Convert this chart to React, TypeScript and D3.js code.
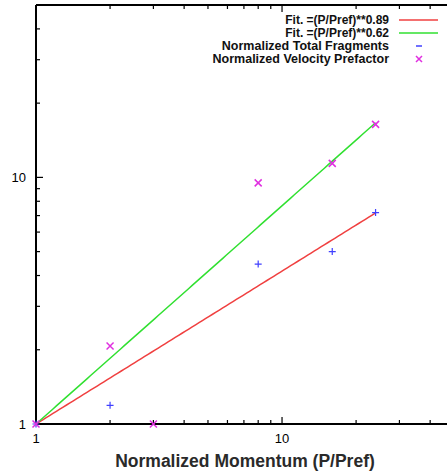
import React, { useEffect, useRef } from 'react';
import * as d3 from 'd3';

const momentum = [1, 2, 8, 16, 24];
const totalFragments = [1, 1.19, 4.45, 5.0, 7.2];
const velMomentum = [1, 2, 3, 8, 16, 24];
const velocityPrefactor = [1, 2.07, 1, 9.5, 11.4, 16.4];
const fitRed = 0.62;
const fitGreen = 0.885;
const legendLabels = [
  'Fit. =(P/Pref)**0.89',
  'Fit. =(P/Pref)**0.62',
  'Normalized Total Fragments',
  'Normalized Velocity Prefactor',
];
const xTicks = [1, 10];
const yTicks = [1, 10];

const App = () => {
  const svgRef = useRef<SVGSVGElement>(null);

  useEffect(() => {
    const width = 447;
    const height = 473;
    const left = 36, right = 454, top = 5, bottom = 424;
    const font = 'Liberation Sans, Arial, sans-serif';

    const svg = d3.select(svgRef.current)
      .attr('width', width)
      .attr('height', height);
    svg.selectAll('*').remove();

    const x = d3.scaleLog().domain([1, 50]).range([left, right]);
    const y = d3.scaleLog().domain([1, 50]).range([bottom, top]);

    // minor / major ticks, inward, mirrored
    const ticks = d3.range(1, 51).filter(v => v < 10 || v % 10 === 0);
    const g = svg.append('g').attr('stroke', '#000');
    ticks.forEach(v => {
      const len = v === 1 || v === 10 ? 7 : 4;
      g.append('line').attr('x1', x(v)).attr('x2', x(v)).attr('y1', bottom).attr('y2', bottom - len).attr('stroke-width', 1.2);
      g.append('line').attr('x1', x(v)).attr('x2', x(v)).attr('y1', top).attr('y2', top + len).attr('stroke-width', 1.2);
      g.append('line').attr('x1', left).attr('x2', left + len).attr('y1', y(v)).attr('y2', y(v)).attr('stroke-width', 1.2);
    });

    // frame
    svg.append('line').attr('x1', left).attr('x2', left).attr('y1', top).attr('y2', bottom).attr('stroke', '#000').attr('stroke-width', 2);
    svg.append('line').attr('x1', left - 1).attr('x2', right).attr('y1', bottom).attr('y2', bottom).attr('stroke', '#000').attr('stroke-width', 2);
    svg.append('line').attr('x1', left).attr('x2', right).attr('y1', top).attr('y2', top).attr('stroke', '#000').attr('stroke-width', 2);

    // tick labels
    svg.selectAll('.xt').data(xTicks).enter().append('text')
      .attr('x', d => x(d)).attr('y', bottom + 19)
      .attr('text-anchor', 'middle').attr('font-family', font).attr('font-size', 13)
      .text(d => d);
    svg.selectAll('.yt').data(yTicks).enter().append('text')
      .attr('x', left - 10).attr('y', d => y(d) + 5)
      .attr('text-anchor', 'end').attr('font-family', font).attr('font-size', 13)
      .text(d => d);

    // axis title
    svg.append('text')
      .attr('x', 245).attr('y', 467)
      .attr('text-anchor', 'middle').attr('font-family', font).attr('font-size', 17.5)
      .attr('font-weight', 'bold').attr('fill', '#2a2a2a')
      .text('Normalized Momentum (P/Pref)');

    // fit lines
    const xs = d3.range(0, 101).map(i => Math.pow(24, i / 100));
    const line = (p: number) => d3.line<number>().x(d => x(d)).y(d => y(Math.pow(d, p)))(xs);
    svg.append('path').attr('d', line(fitRed)).attr('fill', 'none').attr('stroke', '#f04040').attr('stroke-width', 1.5);
    svg.append('path').attr('d', line(fitGreen)).attr('fill', 'none').attr('stroke', '#30e030').attr('stroke-width', 1.5);

    // markers
    const plus = (cx: number, cy: number, s: number, color: string) => {
      svg.append('path').attr('d', `M${cx - s},${cy}H${cx + s}M${cx},${cy - s}V${cy + s}`)
        .attr('stroke', color).attr('stroke-width', 1.2).attr('fill', 'none');
    };
    const cross = (cx: number, cy: number, s: number, color: string) => {
      svg.append('path').attr('d', `M${cx - s},${cy - s}L${cx + s},${cy + s}M${cx - s},${cy + s}L${cx + s},${cy - s}`)
        .attr('stroke', color).attr('stroke-width', 1.5).attr('fill', 'none');
    };
    momentum.forEach((m, i) => plus(x(m), y(totalFragments[i]), 3.5, '#4040ff'));
    velMomentum.forEach((m, i) => cross(x(m), y(velocityPrefactor[i]), 3.5, '#e030e0'));

    // legend
    const ly = [20, 33, 46, 59];
    legendLabels.forEach((t, i) => {
      svg.append('text').attr('x', 389).attr('y', ly[i] + 4)
        .attr('text-anchor', 'end').attr('font-family', font).attr('font-size', i < 2 ? 12 : 12.5)
        .attr('font-weight', 'bold').attr('fill', '#111')
        .text(t);
    });
    svg.append('line').attr('x1', 399).attr('x2', 438).attr('y1', ly[0]).attr('y2', ly[0]).attr('stroke', '#f04040').attr('stroke-width', 1.5);
    svg.append('line').attr('x1', 399).attr('x2', 438).attr('y1', ly[1]).attr('y2', ly[1]).attr('stroke', '#30e030').attr('stroke-width', 1.5);
    svg.append('line').attr('x1', 416).attr('x2', 422).attr('y1', ly[2]).attr('y2', ly[2]).attr('stroke', '#4040ff').attr('stroke-width', 1.5);
    cross(419, ly[3], 3, '#e030e0');
  }, []);

  return <svg ref={svgRef} style={{ position: 'absolute', left: 0, top: 0 }}></svg>;
};

export default App;
